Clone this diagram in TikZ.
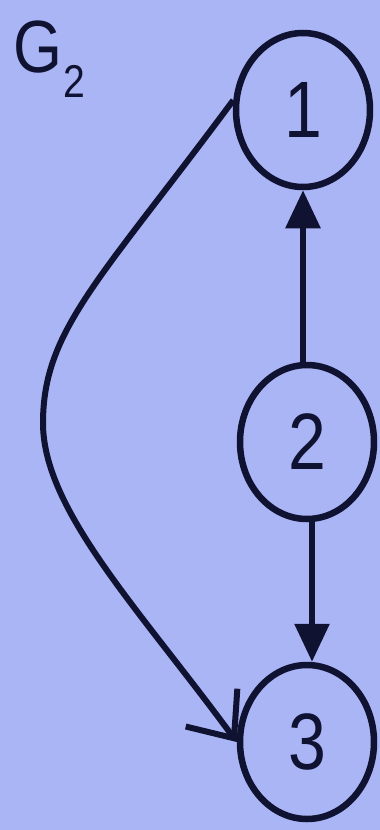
\documentclass[tikz,border=0pt]{standalone}
\usepackage{fontspec}
\setmainfont{Liberation Sans}
\newfontfamily\labfont[FakeStretch=0.85]{Liberation Sans}
\usetikzlibrary{shapes.geometric,arrows.meta}
\definecolor{bgblue}{RGB}{170,181,246}
\definecolor{ink}{RGB}{15,18,48}
\tikzset{
  vertex/.style={ellipse,draw=ink,line width=6.5pt,fill=bgblue,inner sep=0pt,
    minimum width=134pt,minimum height=154pt,text=ink,font=\labfont\fontsize{80}{80}\selectfont},
  edgeline/.style={draw=ink,line width=6pt},
  filledtip/.style={-{Triangle[length=38pt,width=34pt]}},
  barbtip/.style={-{Straight Barb[length=38pt,width=64pt]}}
}
\begin{document}
\begin{tikzpicture}[x=1pt,y=-1pt]
\useasboundingbox (0,0) rectangle (380,830);
\fill[bgblue] (0,0) rectangle (380,830);
\node[vertex] (n1) at (303,110) {1};
\node[vertex] (n2) at (307,442) {2};
\node[vertex] (n3) at (307,742) {3};
\node[anchor=base west,inner sep=0pt,text=ink,font=\labfont\fontsize{74}{74}\selectfont] (g) at (13,72) {G};
\node[anchor=base west,inner sep=0pt,text=ink,font=\labfont\fontsize{46}{46}\selectfont] (gs) at (63,97) {2};
\draw[edgeline,filledtip] (n2.north -| n1.south) -- (n1.south);
\draw[edgeline,filledtip] ([xshift=5pt]n2.south) -- ([xshift=5pt]n2.south |- n3.north);
\draw[edgeline,barbtip] (n1.172) .. controls (100,280) and (43,330) .. (43,423)
   .. controls (43,510) and (140,610) .. (n3.west);
\end{tikzpicture}
\end{document}
